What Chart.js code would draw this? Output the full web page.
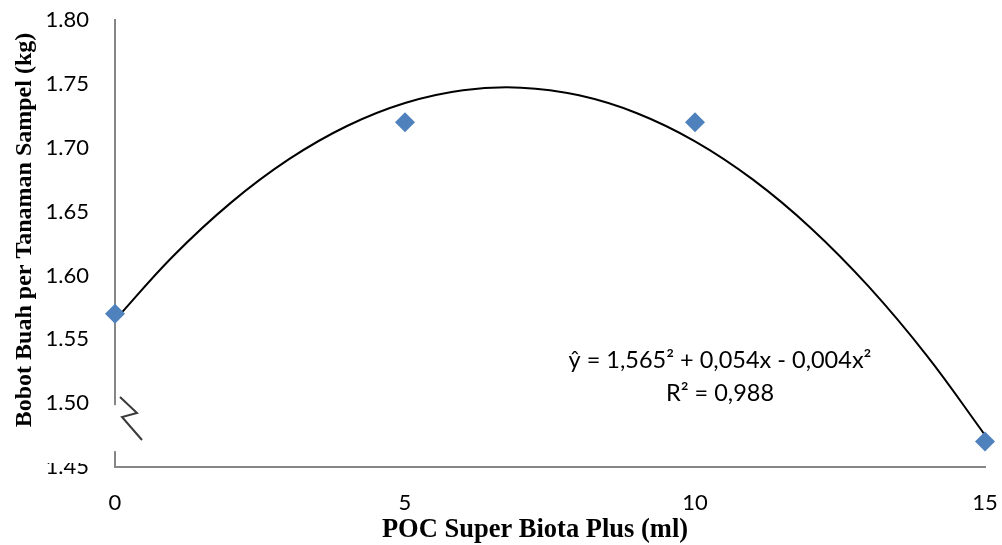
<!DOCTYPE html>
<html><head><meta charset="utf-8">
<script src="https://cdn.jsdelivr.net/npm/chart.js@4.4.1/dist/chart.umd.min.js"></script>
<style>html,body{margin:0;padding:0;background:#fff}#wrap{width:1002px;height:545px}</style>
</head><body><div id="wrap"><canvas id="c" width="1002" height="545"></canvas></div>
<script>
const doses = [0, 5, 10, 15];
const weights = [1.57, 1.72, 1.72, 1.47];
const trendX = [0,1,2,3,4,5,6,7,8,9,10,11,12,13,14,15];
const trendY = [1.565,1.615,1.657,1.691,1.717,1.735,1.745,1.747,1.741,1.727,1.705,1.675,1.637,1.591,1.537,1.475];
const xTicks = [0, 5, 10, 15];
const yTicks = [1.45,1.50,1.55,1.60,1.65,1.70,1.75,1.80];
const xTitle = 'POC Super Biota Plus (ml)';
const yTitle = 'Bobot Buah per Tanaman Sampel (kg)';
const eqLine1 = 'ŷ = 1,565² + 0,054x - 0,004x²';
const eqLine2 = 'R² = 0,988';

const tickFont = {family: 'Lato, "Open Sans", sans-serif', size: 22};
const axisCol = '#868686';
const serifBold = 'bold %spx "Liberation Serif", "Times New Roman", serif';

const overlay = {
  id: 'overlay',
  afterDraw(chart) {
    const ctx = chart.ctx;
    const xs = chart.scales.x, ys = chart.scales.y;
    ctx.save();
    ctx.fillStyle = '#fff';
    ctx.fillRect(xs.getPixelForValue(0) - 3, ys.getPixelForValue(1.5) + 2, 6, 46);
    ctx.fillRect(30, ys.getPixelForValue(1.5) + 25, 78, ys.getPixelForValue(1.45) - ys.getPixelForValue(1.5) - 29);
    ctx.strokeStyle = '#3a3a3a';
    ctx.lineWidth = 2;
    ctx.beginPath();
    ctx.moveTo(120, 397); ctx.lineTo(137, 413); ctx.lineTo(122, 417); ctx.lineTo(142, 440);
    ctx.stroke();
    ctx.fillStyle = '#000';
    ctx.font = '23.5px Lato, "Open Sans", sans-serif';
    ctx.textAlign = 'center';
    ctx.textBaseline = 'middle';
    ctx.fillText(eqLine1, 720, 360);
    ctx.fillText(eqLine2, 720, 393);
    // axis titles
    ctx.textBaseline = 'alphabetic';
    ctx.font = serifBold.replace('%s', '26.5');
    ctx.fillText(xTitle, 535, 537);
    ctx.translate(31, 230);
    ctx.rotate(-Math.PI / 2);
    ctx.font = serifBold.replace('%s', '24');
    ctx.fillText(yTitle, 0, 0);
    ctx.restore();
  }
};

new Chart(document.getElementById('c'), {
  type: 'scatter',
  data: {
    datasets: [
      {
        label: 'Bobot',
        data: doses.map((x, i) => ({x, y: weights[i]})),
        pointStyle: 'rectRot',
        pointRadius: 10,
        pointBackgroundColor: '#4F81BD',
        pointBorderColor: '#4F81BD',
        pointBorderWidth: 0,
        showLine: false,
        clip: false,
        order: 0
      },
      {
        label: 'Trend',
        data: trendX.map((x, i) => ({x, y: trendY[i]})),
        showLine: true,
        borderColor: '#000',
        borderWidth: 2,
        pointRadius: 0,
        tension: 0.4,
        order: 1
      }
    ]
  },
  options: {
    responsive: false,
    animation: false,
    layout: {padding: {top: 20, right: 17, left: 0, bottom: 0}},
    plugins: {legend: {display: false}, tooltip: {enabled: false}},
    scales: {
      x: {
        type: 'linear', min: 0, max: 15,
        afterBuildTicks(s) { s.ticks = xTicks.map(v => ({value: v})); },
        afterFit(s) { s.height = 78; s.paddingLeft = 0; s.paddingRight = 0; },
        grid: {display: false, drawTicks: true, tickLength: 7, tickColor: axisCol},
        border: {color: axisCol, width: 2},
        ticks: {color: '#000', font: tickFont, padding: 16, maxRotation: 0},
        title: {display: false}
      },
      y: {
        type: 'linear', min: 1.45, max: 1.80,
        afterBuildTicks(s) { s.ticks = yTicks.map(v => ({value: v})); },
        afterFit(s) { s.width = 115; s.paddingTop = 0; s.paddingBottom = 0; },
        grid: {display: false, drawTicks: true, tickLength: 7, tickColor: axisCol},
        border: {color: axisCol, width: 2},
        ticks: {color: '#000', font: tickFont, padding: 19, callback: v => v.toFixed(2)},
        title: {display: false}
      }
    }
  },
  plugins: [overlay]
});
</script>
</body></html>
